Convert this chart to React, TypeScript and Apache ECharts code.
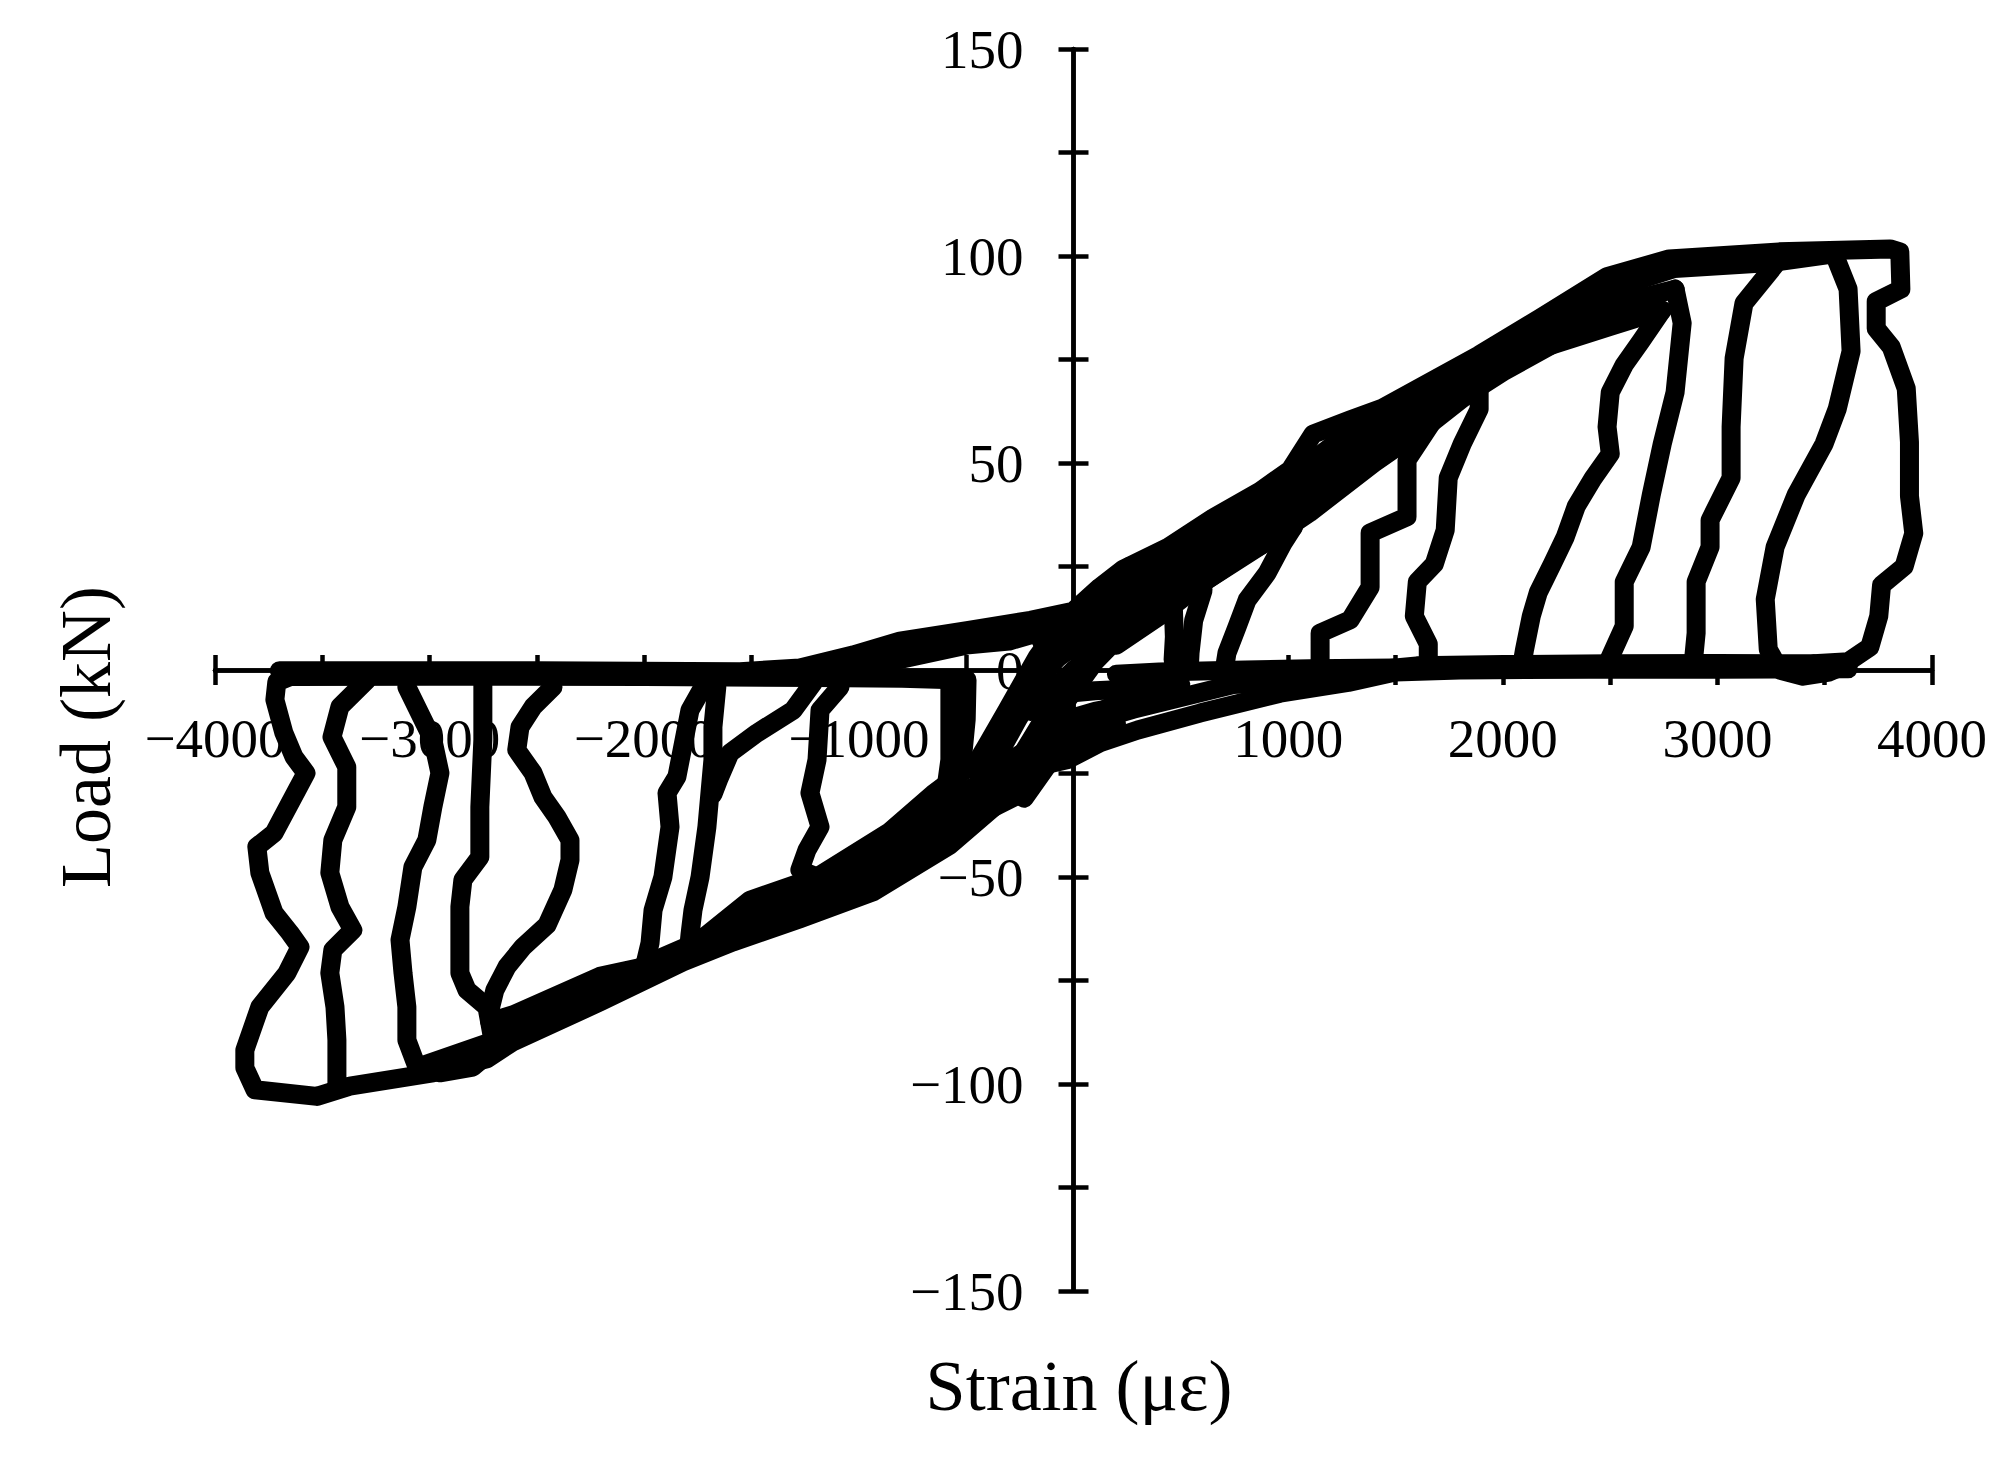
import React, { useEffect, useRef } from "react";
import * as echarts from "echarts";

// ---- axes ----
const X_MIN = -4000;
const X_MAX = 4000;
const X_TICK = 500;
const X_LABEL_STEP = 1000;
const Y_MIN = -150;
const Y_MAX = 150;
const Y_TICK = 25;
const Y_LABEL_STEP = 50;
const X_TITLE = "Strain (με)";
const Y_TITLE = "Load (kN)";

// ---- data: [strain (με), load (kN)] ----
const posOuter = [
  [-3700, -0.2], [-2500, -0.2], [-1554, -0.4], [-1275, 0.5], [-1028, 3.6], [-809, 7], [-496, 9.5],
  [-200, 12], [-2, 14.2], [123, 20], [231, 24.3], [436, 29.5], [650, 36.7], [869, 43.2], [1009, 48.3],
  [1116, 57], [1289, 60.4], [1442, 63.3], [1890, 76.1], [2174, 85], [2486, 95], [2775, 99.3],
  [3288, 101], [3805, 101.7], [3850, 101], [3855, 92], [3740, 89], [3740, 82.5], [3810, 78],
  [3880, 68], [3895, 55], [3895, 42], [3915, 33], [3870, 25], [3765, 20.5], [3752, 13],
  [3710, 5.5], [3610, 2], [3450, 1.5],
];
const topLineC = [[-1300, -1.2], [-900, 1.5], [-500, 6], [-300, 7], [-200, 8.5], [0, 11], [200, 15]];

const posLoadA2 = [
  [-300, 9], [0, 13], [200, 19], [450, 26], [700, 34], [900, 41], [1050, 48], [1250, 56], [1500, 62],
  [1890, 75], [2200, 84], [2500, 93], [2800, 98.5], [3300, 100],
];
const posLoadA = [
  [-150, 7], [100, 16], [400, 24], [700, 32], [950, 42], [1150, 50], [1350, 57], [1600, 64],
  [1890, 74], [2200, 83], [2500, 92], [2800, 97], [3268, 98.5], [3544, 100.5],
];
const posLoadH = [
  [300, 18], [600, 27], [900, 36], [1150, 46], [1400, 55], [1700, 62], [2000, 72], [2350, 82], [2650, 90],
];
const posLoadB = [
  [-100, 6], [200, 15], [500, 24], [800, 33], [1050, 43], [1300, 52], [1600, 61], [1890, 72],
  [2200, 81], [2500, 88], [2803, 92],
];
const posLoadC = [
  [-150, 1], [0, 6], [300, 16], [600, 25], [900, 33], [1100, 40], [1300, 48], [1600, 58],
  [1890, 70], [2200, 78], [2500, 83], [2743, 86.9],
];
const posLoadD = [
  [-250, -8], [-100, 2], [100, 9], [300, 15], [600, 23], [900, 31], [1100, 38], [1400, 50],
  [1650, 59], [1890, 68.8],
];
const posLoadE = [
  [-200, -10], [0, 0], [200, 8], [400, 15], [600, 21], [900, 31], [1200, 43], [1450, 52], [1677, 60.4],
];
const posLoadF = [[200, 6], [400, 13], [600, 21], [800, 28], [1024, 34.5]];

const posUnload2 = [
  [3544, 100.5], [3609, 92], [3623, 77], [3558, 63], [3497, 54.6], [3367, 42.3], [3269, 29.7],
  [3223, 17.1], [3237, 5], [3290, 0], [3400, -1.5], [3520, -0.5], [3610, 1.5],
];
const posUnload3 = [
  [3268, 97.8], [3124, 88.6], [3078, 75.3], [3064, 58.7], [3064, 46.4], [2966, 36.2], [2966, 29.7],
  [2901, 21.3], [2901, 8.9], [2887, 1.4],
];
const posUnload4 = [
  [2803, 92], [2836, 83.8], [2803, 67.1], [2743, 54.6], [2692, 42.3], [2645, 29.7], [2566, 21.3],
  [2566, 10.6], [2486, 1.4],
];
const posUnload5 = [
  [2743, 86.9], [2645, 79.5], [2566, 73.7], [2501, 67.1], [2486, 58.7], [2501, 52.2], [2422, 46.4],
  [2343, 39.6], [2291, 32.1], [2231, 25.6], [2166, 18.8], [2133, 13], [2101, 4.8], [2087, 0.5],
];
const posUnload6 = [
  [1890, 68.8], [1890, 63], [1811, 54.6], [1746, 46.4], [1732, 33.8], [1681, 25.6], [1602, 21.3],
  [1588, 13], [1653, 6.3], [1653, 2.2], [1619, 0],
];
const posUnload7 = [
  [1677, 60.4], [1554, 50.7], [1554, 37], [1382, 33.1], [1382, 20], [1289, 12.1], [1149, 8.9],
  [1149, 4.1], [1149, 1.2],
];
const posUnloadM1 = [[1024, 34.5], [977, 30.7], [902, 23.4], [809, 16.9], [762, 10.4], [715, 4.1], [706, 1.2]];
const posUnloadM2 = [[604, 19.3], [560, 12], [543, 4.1], [540, 1]];
const posUnloadM3 = [[464, 16.9], [470, 8], [464, 2.4]];

const botLineA = [
  [3450, 1.5], [3000, 1.6], [2500, 1.5], [2000, 1.3], [1600, 1], [1400, 0], [1289, -2], [1000, -2.8],
  [745, -3.5], [589, -5.5], [277, -9.5], [44, -13], [-189, -18.5], [-343, -23.4],
];
const botLineB = [
  [3610, 0.3], [3000, 0.2], [2400, 0.2], [1800, 0], [1500, -0.5], [1280, -3], [963, -5.6],
  [589, -10.4], [300, -14.5], [123, -17.6], [-30, -21.7], [-142, -23],
];
const botLineC = [[1500, 0.5], [1100, 0.3], [800, 0], [400, -0.5], [200, -1]];
const botLineD = [[-300, -24], [-100, -13], [100, -10], [300, -8]];
const botLineE = [[-100, -6], [100, -5], [300, -4.5], [500, -3.5]];
const botLineF = [[-250, -26], [-100, -20], [50, -16], [200, -13]];

const steep1 = [[-470, -24], [-397, -17.6], [-313, -10], [-171, 3], [-60, 11], [100, 18], [260, 25]];
const steep2 = [[-420, -27], [-260, -12], [-120, 0], [20, 9], [180, 17]];
const steep3 = [[-340, -29], [-200, -17], [-60, -5], [80, 5], [220, 14]];
const steep4 = [[-300, -31], [-170, -20], [-40, -8], [100, 2], [250, 10]];
const steep5 = [[-230, -31], [-80, -20], [60, -12], [200, -8]];

const negOuter = [
  [-142, -23], [-343, -31.9], [-576, -42.3], [-934, -53.6], [-1275, -60.1], [-1587, -65.7],
  [-1820, -70.5], [-2207, -80.2], [-2612, -89.8], [-2733, -93.9], [-2985, -97.3], [-3372, -100.5],
  [-3525, -103], [-3814, -101.4], [-3861, -96.1], [-3861, -91.8], [-3791, -81.4], [-3665, -73.2],
  [-3604, -66.9], [-3651, -63.5], [-3725, -58.7], [-3791, -49], [-3805, -42.7], [-3725, -39.4],
  [-3618, -29], [-3576, -24.9], [-3632, -21], [-3679, -15.2], [-3721, -7.2], [-3712, -2.9],
  [-3651, -1.6], [-3000, -1.5], [-2000, -1.6], [-1200, -1.8], [-800, -2], [-520, -2.4],
];

const negLoad1 = [
  [-450, -22], [-655, -30], [-855, -39], [-1195, -50], [-1507, -55.6], [-1708, -64], [-1894, -70.5],
  [-2207, -74], [-2612, -83.3], [-2719, -85],
];
const negLoad2 = [
  [-350, -25], [-655, -33.5], [-934, -43.5], [-1195, -52.5], [-1500, -58], [-1796, -68.8], [-2000, -73],
  [-2207, -76], [-2612, -86], [-2705, -89.4],
];
const negLoad3 = [
  [-300, -27], [-655, -37], [-934, -47], [-1195, -55], [-1500, -60], [-1997, -71.2], [-2207, -78],
  [-2612, -88], [-3059, -96],
];
const negLoad4 = [
  [-250, -30], [-655, -40.5], [-934, -50.5], [-1195, -57.5], [-1500, -62], [-1800, -68], [-2207, -80],
  [-2612, -89], [-2900, -95],
];
const negLoad5 = [[-400, -27], [-655, -35], [-934, -45], [-1195, -54], [-1500, -61], [-1900, -70]];

const negUnload1 = [
  [-3292, -2.4], [-3418, -8.9], [-3455, -16.2], [-3386, -23.4], [-3386, -33.1], [-3451, -41.1],
  [-3465, -49], [-3418, -57.2], [-3358, -62.8], [-3451, -67.6], [-3465, -73.2], [-3441, -81.4],
  [-3432, -89.4], [-3432, -100],
];
const negUnload2 = [
  [-3106, -4.1], [-2985, -16.9], [-2952, -24.9], [-2985, -33.1], [-3013, -41.1], [-3078, -47.6],
  [-3106, -57.2], [-3138, -65.2], [-3124, -73.2], [-3106, -81.4], [-3106, -89.4], [-3059, -95.9],
  [-2952, -97.3], [-2799, -95.9], [-2705, -91.8],
];
const negUnload3 = [
  [-2752, -2.4], [-2752, -16.9], [-2766, -33.1], [-2766, -45.2], [-2845, -50.7], [-2859, -57.2],
  [-2859, -73.2], [-2826, -77.3], [-2733, -81.4], [-2705, -89.4],
];
const negUnload4 = [
  [-2425, -4.1], [-2518, -8.9], [-2579, -13.8], [-2594, -19.3], [-2518, -24.9], [-2472, -30.7],
  [-2407, -35.5], [-2346, -41.1], [-2346, -45.9], [-2379, -53.1], [-2453, -61.6], [-2565, -66.9],
  [-2640, -71.7], [-2696, -77.3], [-2719, -82.1], [-2719, -85],
];
const negUnload5 = [
  [-1726, -4.1], [-1787, -9.7], [-1848, -25.8], [-1894, -29.7], [-1880, -37.9], [-1913, -50],
  [-1959, -58], [-1973, -65.9], [-1997, -71.2],
];
const negUnload6 = [
  [-1662, -4.1], [-1680, -13.8], [-1680, -21.7], [-1708, -37.9], [-1740, -50], [-1773, -58],
  [-1787, -64], [-1796, -68.8],
];
const negUnload7 = [[-1213, -3.1], [-1306, -9.7], [-1474, -15.2], [-1600, -20], [-1650, -26], [-1680, -30]];
const negUnload8 = [
  [-1088, -4.1], [-1181, -9.7], [-1195, -21.7], [-1228, -29.7], [-1181, -37.9], [-1242, -43.5],
  [-1275, -48.3], [-1195, -50],
];
const negUnload9 = [[-576, -2.4], [-576, -12], [-576, -21.7], [-590, -27]];
const negUnload10 = [[-496, -2.4], [-500, -12], [-515, -20], [-530, -24]];

const branches = [
  posOuter, topLineC, posLoadA2, posLoadA, posLoadH, posLoadB, posLoadC, posLoadD, posLoadE, posLoadF,
  posUnload2, posUnload3, posUnload4, posUnload5, posUnload6, posUnload7,
  posUnloadM1, posUnloadM2, posUnloadM3, botLineA, botLineB, botLineC, botLineD, botLineE, botLineF,
  steep1, steep2, steep3, steep4, steep5, negOuter, negLoad1, negLoad2, negLoad3, negLoad4, negLoad5,
  negUnload1, negUnload2, negUnload3, negUnload4, negUnload5, negUnload6,
  negUnload7, negUnload8, negUnload9, negUnload10,
];

const FONT = "Liberation Serif";
const W = 2013;
const H = 1462;
const GRID = { left: 215, right: 81, top: 49, bottom: 171 };

export default function App() {
  const ref = useRef<HTMLDivElement>(null);
  useEffect(() => {
    if (!ref.current) return;
    const chart = echarts.init(ref.current, null, { renderer: "svg" });
    const plotW = W - GRID.left - GRID.right;
    const plotH = H - GRID.top - GRID.bottom;
    const zeroX = GRID.left + ((0 - X_MIN) / (X_MAX - X_MIN)) * plotW;
    const zeroY = GRID.top + ((Y_MAX - 0) / (Y_MAX - Y_MIN)) * plotH;
    const xOff = zeroY - (H - GRID.bottom);
    const yOff = GRID.left - zeroX;

    const fmt = (step: number) => (v: number) =>
      Math.round(v) % step === 0 ? String(Math.round(v)).replace("-", "\u2212") : "";
    const axisLine = { show: true, onZero: false, lineStyle: { color: "#000", width: 4.5 } };
    const tick = { show: true, inside: false, length: 15, lineStyle: { color: "#000", width: 4.5 } };
    const xCommon = { type: "value", min: X_MIN, max: X_MAX, interval: X_TICK, splitLine: { show: false } };
    const yCommon = { type: "value", min: Y_MIN, max: Y_MAX, interval: Y_TICK, splitLine: { show: false } };
    chart.setOption({
      animation: false,
      backgroundColor: "#fff",
      grid: { ...GRID, containLabel: false },
      xAxis: [
        {
          ...xCommon,
          position: "bottom",
          offset: xOff,
          axisLine,
          axisTick: tick,
          axisLabel: {
            show: true, interval: 0, margin: 41, formatter: fmt(X_LABEL_STEP),
            fontFamily: FONT, fontSize: 55, color: "#000", showMinLabel: true, showMaxLabel: true,
          },
        },
        { ...xCommon, position: "top", offset: xOff, axisLine, axisTick: tick, axisLabel: { show: false } },
      ],
      yAxis: [
        {
          ...yCommon,
          position: "left",
          offset: yOff,
          axisLine,
          axisTick: tick,
          axisLabel: {
            show: true, interval: 0, margin: 50, formatter: fmt(Y_LABEL_STEP),
            fontFamily: FONT, fontSize: 55, color: "#000", showMinLabel: true, showMaxLabel: true,
          },
        },
        { ...yCommon, position: "right", offset: yOff, axisLine, axisTick: tick, axisLabel: { show: false } },
      ],
      graphic: [
        {
          type: "text", x: 1079, y: 1386,
          style: {
            text: X_TITLE, fontFamily: FONT, fontSize: 72, fill: "#000",
            textAlign: "center", textVerticalAlign: "middle", align: "center", verticalAlign: "middle",
          },
        },
        {
          type: "text", x: 86, y: 737, rotation: Math.PI / 2,
          style: {
            text: Y_TITLE, fontFamily: FONT, fontSize: 72, fill: "#000",
            textAlign: "center", textVerticalAlign: "middle", align: "center", verticalAlign: "middle",
          },
        },
      ],
      series: branches.map((d, i) => ({
        type: "line",
        name: "cycle" + i,
        xAxisIndex: 0,
        yAxisIndex: 0,
        data: d,
        symbol: "none",
        showSymbol: false,
        silent: true,
        smooth: false,
        lineStyle: { color: "#000", width: 19, cap: "round", join: "round" },
      })),
    });
    return () => chart.dispose();
  }, []);
  return (
    <div
      ref={ref}
      style={{ position: "fixed", left: 0, top: 0, width: W, height: H, background: "#fff" }}
    />
  );
}
